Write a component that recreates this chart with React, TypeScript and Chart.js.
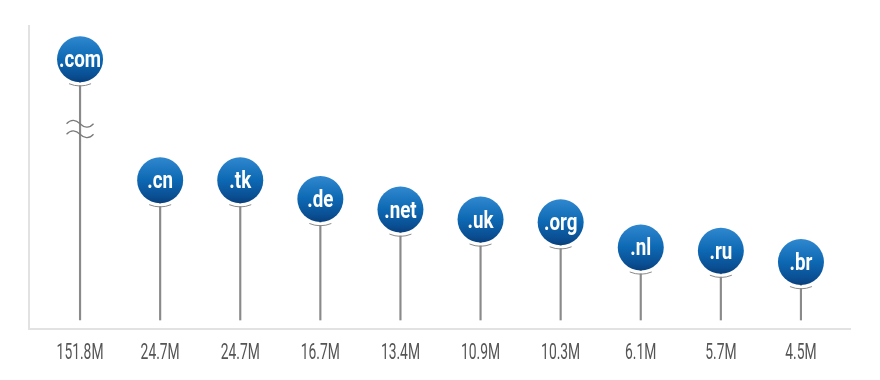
import React, { useEffect, useRef } from 'react';
import { Chart, registerables } from 'chart.js';

Chart.register(...registerables);

// Top-level domains and registrations (millions)
const domains = ['.com', '.cn', '.tk', '.de', '.net', '.uk', '.org', '.nl', '.ru', '.br'];
const registrations = [151.8, 24.7, 24.7, 16.7, 13.4, 10.9, 10.3, 6.1, 5.7, 4.5];
const tickLabels = ['151.8M', '24.7M', '24.7M', '16.7M', '13.4M', '10.9M', '10.3M', '6.1M', '5.7M', '4.5M'];

// Broken log axis: values above the threshold are drawn at the break value
const breakThreshold = 100;
const breakDisplayValue = 305;
const yMin = 1.35;
const yMax = 560;

const BUBBLE_R = 23;

export default function App() {
  const ref = useRef<HTMLCanvasElement>(null);

  useEffect(() => {
    document.body.style.margin = '0';
    const canvas = ref.current!;
    const plotted = registrations.map((v) => (v > breakThreshold ? breakDisplayValue : v));

    const bubbleFill = (ctx: any) => {
      const chart = ctx.chart;
      const ys = chart.scales && chart.scales.y;
      if (ctx.type !== 'data' || !ys || ctx.parsed == null) return '#0b62ad';
      const py = ys.getPixelForValue(ctx.parsed.y);
      if (!Number.isFinite(py)) return '#0b62ad';
      const g = chart.ctx.createLinearGradient(0, py - BUBBLE_R, 0, py + BUBBLE_R);
      g.addColorStop(0, '#2f88cf');
      g.addColorStop(0.5, '#0d68b3');
      g.addColorStop(0.85, '#0a4f93');
      g.addColorStop(1, '#073f7c');
      return g;
    };

    const decor = {
      id: 'decor',
      beforeDatasetsDraw(chart: any) {
        const { ctx, chartArea } = chart;
        ctx.save();
        ctx.strokeStyle = '#e2e2e2';
        ctx.lineWidth = 2;
        ctx.beginPath();
        ctx.moveTo(chartArea.left - 11, chartArea.top - 5);
        ctx.lineTo(chartArea.left - 11, chartArea.bottom + 9);
        ctx.lineTo(chartArea.right + 10, chartArea.bottom + 9);
        ctx.stroke();
        ctx.restore();
      },
      afterDatasetsDraw(chart: any) {
        const { ctx, chartArea } = chart;
        const meta = chart.getDatasetMeta(0);
        ctx.save();
        meta.data.forEach((pt: any, i: number) => {
          const x = pt.x;
          const y = pt.y;
          // gap + little arc under bubble
          ctx.fillStyle = '#ffffff';
          ctx.fillRect(x - 2, y + BUBBLE_R + 0.5, 4, 2.5);
          ctx.strokeStyle = '#8a8a8a';
          ctx.lineWidth = 1;
          ctx.beginPath();
          ctx.moveTo(x - 11, y + BUBBLE_R + 1.5);
          ctx.quadraticCurveTo(x, y + BUBBLE_R + 6, x + 11, y + BUBBLE_R + 1.5);
          ctx.stroke();

          // axis break marks
          if (registrations[i] > breakThreshold) {
            ctx.strokeStyle = '#7a7a7a';
            ctx.lineWidth = 1.2;
            [64.5, 75].forEach((off) => {
              const wy = y + off;
              ctx.beginPath();
              ctx.moveTo(x - 13.5, wy);
              ctx.bezierCurveTo(x - 9, wy - 5, x - 4, wy - 4, x, wy);
              ctx.bezierCurveTo(x + 4, wy + 4, x + 9, wy + 5, x + 13.5, wy);
              ctx.stroke();
            });
          }

          // domain text inside bubble
          ctx.save();
          ctx.fillStyle = '#ffffff';
          ctx.font = 'bold 24px Roboto';
          ctx.textAlign = 'center';
          ctx.textBaseline = 'alphabetic';
          ctx.translate(x, y + 8);
          ctx.scale(0.78, 1);
          ctx.fillText(domains[i], 0, 0);
          ctx.restore();

          // value label under axis
          ctx.save();
          ctx.fillStyle = '#555555';
          ctx.font = '22px Roboto';
          ctx.textAlign = 'center';
          ctx.textBaseline = 'middle';
          ctx.translate(x, chartArea.bottom + 33);
          ctx.scale(0.63, 1);
          ctx.fillText(tickLabels[i], 0, 0);
          ctx.restore();
        });
        ctx.restore();
      },
    };

    const chart = new Chart(canvas, {
      type: 'bar',
      data: {
        labels: domains,
        datasets: [
          {
            type: 'line',
            data: plotted,
            showLine: false,
            pointRadius: BUBBLE_R,
            pointHoverRadius: BUBBLE_R,
            pointBorderWidth: 0,
            pointBackgroundColor: bubbleFill,
            backgroundColor: bubbleFill,
            order: 0,
            clip: false,
          } as any,
          {
            type: 'bar',
            data: plotted,
            backgroundColor: '#8a8a8a',
            barThickness: 1.5,
            order: 1,
            clip: false,
          } as any,
        ],
      },
      options: {
        animation: false,
        responsive: false,
        events: [],
        layout: { padding: { left: 40, right: 39, top: 30, bottom: 60 } },
        plugins: { legend: { display: false }, tooltip: { enabled: false } },
        scales: {
          x: { display: false, offset: true },
          y: { type: 'logarithmic', display: false, min: yMin, max: yMax },
        },
      },
      plugins: [decor],
    });

    return () => chart.destroy();
  }, []);

  return <canvas ref={ref} width={880} height={380} style={{ display: 'block' }} />;
}
